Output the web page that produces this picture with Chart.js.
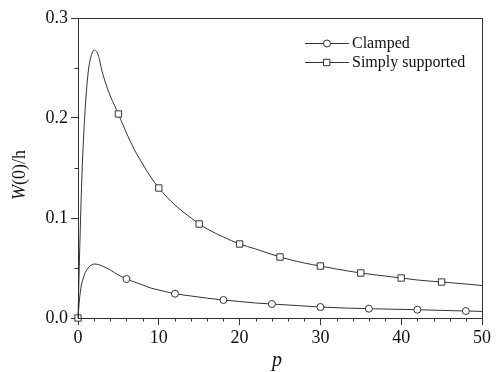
<!DOCTYPE html>
<html>
<head>
<meta charset="utf-8">
<script src="https://cdn.jsdelivr.net/npm/chart.js@4.4.0/dist/chart.umd.min.js"></script>
<style>
html,body{margin:0;padding:0;background:#fff;}
#wrap{width:497px;height:372px;}
</style>
</head>
<body>
<div id="wrap"><canvas id="c" width="497" height="372"></canvas></div>
<script>
// Simply supported curve (p, W(0)/h)
const ssP = [0,0.25,0.5,0.75,1,1.25,1.5,1.75,2,2.5,3,3.5,4,5,6,7,8,9,10,12,14,15,16,18,20,22,25,28,30,32,35,38,40,42,45,48,50];
const ssW = [0,0.08,0.145,0.19,0.222,0.245,0.258,0.265,0.268,0.263,0.246,0.233,0.222,0.204,0.185,0.168,0.154,0.141,0.130,0.113,0.100,0.094,0.089,0.081,0.074,0.069,0.061,0.055,0.052,0.049,0.045,0.042,0.040,0.038,0.036,0.034,0.0325];
const ssMarkers = [0,5,10,15,20,25,30,35,40,45];
// Clamped curve
const clP = [0,0.2,0.4,0.7,1,1.5,2,2.5,3,4,5,6,7,8,9,10,12,14,16,18,20,22,24,27,30,33,36,39,42,45,48,50];
const clW = [0,0.02,0.032,0.041,0.047,0.052,0.054,0.0535,0.052,0.048,0.043,0.039,0.036,0.033,0.030,0.028,0.0243,0.022,0.0198,0.018,0.0165,0.015,0.014,0.0125,0.011,0.010,0.0093,0.0088,0.0083,0.0076,0.007,0.0066];
const clMarkers = [6,12,18,24,30,36,42,48];
const xTicks = [0,10,20,30,40,50];
const yTicks = [0.0,0.1,0.2,0.3];
const seriesNames = ['Clamped','Simply supported'];

const INK = '#333';
const SERIF = '"Liberation Serif","Times New Roman",serif';

function pts(P, W){ return P.map((p,i)=>({x:p,y:W[i]})); }

const framePlugin = {
  id:'frame',
  afterDraw(chart){
    const ctx = chart.ctx, a = chart.chartArea;
    const xs = chart.scales.x, ys = chart.scales.y;
    ctx.save();
    ctx.strokeStyle = INK; ctx.lineWidth = 1;
    ctx.strokeRect(Math.round(a.left)+0.5, Math.round(a.top)+0.5, Math.round(a.right-a.left), Math.round(a.bottom-a.top));
    // minor ticks
    ctx.beginPath();
    for (let v=2; v<50; v+=2){ if (v%10===0) continue;
      const x = Math.round(xs.getPixelForValue(v))+0.5;
      ctx.moveTo(x, a.bottom); ctx.lineTo(x, a.bottom+3.5);
    }
    [0.05,0.15,0.25].forEach(v=>{
      const y = Math.round(ys.getPixelForValue(v))+0.5;
      ctx.moveTo(a.left, y); ctx.lineTo(a.left-3.5, y);
    });
    ctx.stroke();
    // axis titles
    ctx.fillStyle = '#111';
    ctx.font = 'italic 20px ' + SERIF;
    ctx.textAlign = 'center'; ctx.textBaseline = 'alphabetic';
    ctx.fillText('p', (a.left+a.right)/2 - 3, 366);
    ctx.save();
    ctx.translate(25, 175);
    ctx.rotate(-Math.PI/2);
    ctx.textBaseline = 'alphabetic';
    ctx.font = 'italic 18px ' + SERIF;
    const w1 = ctx.measureText('W').width;
    ctx.font = '18px ' + SERIF;
    const w2 = ctx.measureText('(0)/h').width;
    const start = -(w1+w2)/2;
    ctx.textAlign = 'left';
    ctx.font = 'italic 18px ' + SERIF;
    ctx.fillText('W', start, 0);
    ctx.font = '18px ' + SERIF;
    ctx.fillText('(0)/h', start + w1, 0);
    ctx.restore();
    // legend
    const rows = [{y:43.5, style:'circle'},{y:62.5, style:'rect'}];
    rows.forEach((r,i)=>{
      ctx.beginPath();
      ctx.strokeStyle = INK; ctx.lineWidth = 1;
      ctx.moveTo(305, r.y); ctx.lineTo(349, r.y); ctx.stroke();
      ctx.fillStyle = '#fff';
      ctx.beginPath();
      if (r.style==='circle'){ ctx.arc(327, r.y, 3.5, 0, Math.PI*2); }
      else { ctx.rect(323.5, r.y-3.2, 6.4, 6.4); }
      ctx.fill(); ctx.stroke();
      ctx.fillStyle = '#111';
      ctx.font = '16px ' + SERIF;
      ctx.textAlign = 'left'; ctx.textBaseline = 'middle';
      ctx.fillText(seriesNames[i], 352, r.y);
    });
    ctx.restore();
  }
};

new Chart(document.getElementById('c'), {
  type:'line',
  data:{
    datasets:[
      {
        label: seriesNames[0],
        data: pts(clP, clW),
        borderColor: INK, borderWidth: 1, backgroundColor:'#fff',
        cubicInterpolationMode:'monotone',
        pointStyle:'circle',
        pointRadius: c => clMarkers.includes(c.raw && c.raw.x) ? 3.5 : 0,
        pointBorderColor: INK, pointBackgroundColor:'#fff', pointBorderWidth:1,
        fill:false, clip:false
      },
      {
        label: seriesNames[1],
        data: pts(ssP, ssW),
        borderColor: INK, borderWidth: 1, backgroundColor:'#fff',
        cubicInterpolationMode:'monotone',
        pointStyle:'rect',
        pointRadius: c => ssMarkers.includes(c.raw && c.raw.x) ? 4.5 : 0,
        pointBorderColor: INK, pointBackgroundColor:'#fff', pointBorderWidth:1,
        fill:false, clip:false
      }
    ]
  },
  options:{
    responsive:false, animation:false,
    layout:{padding:{left:0,right:15,top:18,bottom:0}},
    plugins:{legend:{display:false}, tooltip:{enabled:false}},
    elements:{line:{borderCapStyle:'round'}},
    scales:{
      x:{
        type:'linear', min:0, max:50,
        afterBuildTicks: s => { s.ticks = xTicks.map(v=>({value:v})); },
        afterFit: s => { s.height = 54; },
        grid:{display:true, drawOnChartArea:false, drawTicks:true, tickLength:7, color:INK},
        border:{display:true, color:INK, width:1},
        ticks:{color:'#111', font:{family:SERIF, size:18}, padding:2, maxRotation:0,
          callback: v => String(v)}
      },
      y:{
        type:'linear', min:0, max:0.3,
        afterBuildTicks: s => { s.ticks = yTicks.map(v=>({value:v})); },
        afterFit: s => { s.width = 78; },
        grid:{display:true, drawOnChartArea:false, drawTicks:true, tickLength:7, color:INK},
        border:{display:true, color:INK, width:1},
        ticks:{color:'#111', font:{family:SERIF, size:18}, padding:3,
          callback: v => Number(v).toFixed(1)}
      }
    }
  },
  plugins:[framePlugin]
});
</script>
</body>
</html>
